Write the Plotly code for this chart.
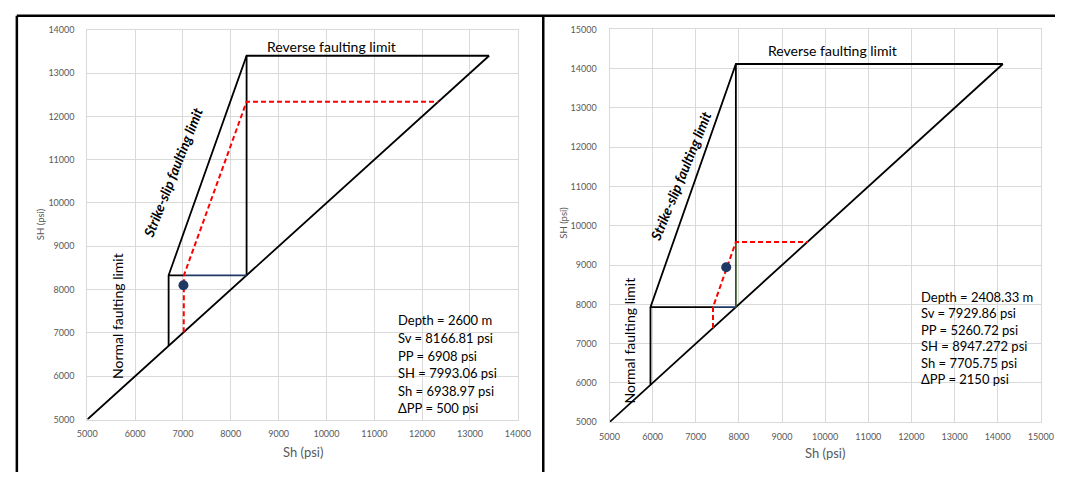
import plotly.graph_objects as go

# ---------------- data ----------------
# Left panel (Depth 2600 m)
L_diag_x = [5000, 13400]
L_diag_y = [5000, 13400]
L_frame_x = [6700, 6700, 8330, 13400]
L_frame_y = [6700, 8330, 13400, 13400]
L_vert_x = [8330, 8330]
L_vert_y = [8330, 13400]
L_hblack_x = [6700, 7020]
L_hblack_y = [8330, 8330]
L_hblue_x = [7020, 8330]
L_hblue_y = [8330, 8330]
L_red_x = [7015, 7020, 8330, 12340]
L_red_y = [7015, 8330, 12340, 12340]
L_dot_x = [7010]
L_dot_y = [8100]
L_info = ["Depth = 2600 m", "Sv = 8166.81 psi", "PP = 6908 psi",
          "SH = 7993.06 psi", "Sh = 6938.97 psi", "\u0394PP = 500 psi"]
L_xticks = list(range(5000, 14001, 1000))
L_yticks = list(range(5000, 14001, 1000))

# Right panel (Depth 2408.33 m)
R_diag_x = [5000, 14120]
R_diag_y = [5000, 14120]
R_frame_x = [5950, 5950, 7930, 14120]
R_frame_y = [5950, 7930, 14120, 14120]
R_vert_x = [7930, 7930]
R_vert_y = [9590, 14120]
R_hblack_x = [5950, 7400]
R_hblack_y = [7930, 7930]
R_hblue_x = [7400, 7930]
R_hblue_y = [7930, 7930]
R_green_x = [7930, 7930]
R_green_y = [7930, 9590]
R_red_x = [7400, 7400, 7930, 9600]
R_red_y = [7400, 7930, 9590, 9590]
R_dot_x = [7706]
R_dot_y = [8947]
R_info = ["Depth = 2408.33 m", "Sv = 7929.86 psi", "PP = 5260.72 psi",
          "SH = 8947.272 psi", "Sh = 7705.75 psi", "\u0394PP = 2150 psi"]
R_xticks = list(range(5000, 15001, 1000))
R_yticks = list(range(5000, 15001, 1000))

# ---------------- figure ----------------
W, H = 1068, 477
BLACK = "#000000"
BLUE = "#203864"
GREEN = "#385723"
RED = "#ff0000"
GRID = "#d9d9d9"
TICK = "#595959"
FONT = "Lato, 'Open Sans', sans-serif"
RED_DASH = "5px,3px"

fig = go.Figure()

def line(x, y, color, width, dash="solid", xa="x", ya="y"):
    fig.add_trace(go.Scatter(x=x, y=y, mode="lines", xaxis=xa, yaxis=ya,
                             line=dict(color=color, width=width, dash=dash),
                             hoverinfo="skip", showlegend=False))

# left panel
line(L_diag_x, L_diag_y, BLACK, 1.8)
line(L_frame_x, L_frame_y, BLACK, 1.8)
line(L_vert_x, L_vert_y, BLACK, 1.8)
line(L_hblack_x, L_hblack_y, BLACK, 1.8)
line(L_hblue_x, L_hblue_y, BLUE, 1.8)
line(L_red_x, L_red_y, RED, 2, RED_DASH)
fig.add_trace(go.Scatter(x=L_dot_x, y=L_dot_y, mode="markers",
                         marker=dict(color=BLUE, size=10), showlegend=False,
                         hoverinfo="skip", xaxis="x", yaxis="y"))

# right panel
line(R_diag_x, R_diag_y, BLACK, 1.8, xa="x2", ya="y2")
line(R_frame_x, R_frame_y, BLACK, 1.8, xa="x2", ya="y2")
line(R_vert_x, R_vert_y, BLACK, 1.8, xa="x2", ya="y2")
line(R_hblack_x, R_hblack_y, BLACK, 1.8, xa="x2", ya="y2")
line(R_hblue_x, R_hblue_y, BLUE, 1.8, xa="x2", ya="y2")
line(R_green_x, R_green_y, GREEN, 1.8, xa="x2", ya="y2")
line(R_red_x, R_red_y, RED, 2, RED_DASH, xa="x2", ya="y2")
fig.add_trace(go.Scatter(x=R_dot_x, y=R_dot_y, mode="markers",
                         marker=dict(color=BLUE, size=10), showlegend=False,
                         hoverinfo="skip", xaxis="x2", yaxis="y2"))

def px_x(p):
    return p / W

def px_y(p):
    return (H - p) / H

axis_common = dict(showgrid=True, gridcolor=GRID, gridwidth=1, zeroline=False,
                   showline=True, linecolor=GRID, linewidth=1, mirror=True,
                   ticks="", tickformat="d",
                   tickfont=dict(family=FONT, size=9, color=TICK),
                   fixedrange=True)

fig.update_layout(
    width=W, height=H, margin=dict(l=0, r=0, t=0, b=0),
    paper_bgcolor="white", plot_bgcolor="white", showlegend=False,
    xaxis=dict(domain=[px_x(79), px_x(519)], range=[5000, 14000], tickvals=L_xticks,
               anchor="y", ticklabelstandoff=6, **axis_common),
    yaxis=dict(domain=[px_y(423.3), px_y(24.3)], range=[5000, 14000], tickvals=L_yticks,
               anchor="x", ticklabelstandoff=10, **axis_common),
    xaxis2=dict(domain=[px_x(612.7), px_x(1053.5)], range=[5000, 15000], tickvals=R_xticks,
                anchor="y2", ticklabelstandoff=6, **axis_common),
    yaxis2=dict(domain=[px_y(426), px_y(24)], range=[5000, 15000], tickvals=R_yticks,
                anchor="x2", ticklabelstandoff=10, **axis_common),
)

ann = []
lbl_font = dict(family=FONT, size=14, color="#000000")
info_font = dict(family=FONT, size=13, color="#000000")
ss_font = dict(family=FONT, size=14, color="#000000")
C = dict(showarrow=False, xanchor="center", yanchor="middle")
# left labels
ann.append(dict(x=10095, y=13617, xref="x", yref="y", text="Reverse faulting limit",
                font=lbl_font, **C))
ann.append(dict(x=6780, y=10715, xref="x", yref="y",
                text="<b><i>Strike-slip faulting limit</i></b>", textangle=-68.5,
                font=ss_font, **C))
ann.append(dict(x=5630, y=7402, xref="x", yref="y", text="Normal faulting limit",
                textangle=-90, font=lbl_font, **C))
for i, t in enumerate(L_info):
    ann.append(dict(x=11460, y=7290, xref="x", yref="y", text=t, xanchor="left",
                    yanchor="middle", yshift=-17.6 * i, showarrow=False, font=info_font))
# right labels
ann.append(dict(x=10175, y=14461, xref="x2", yref="y2", text="Reverse faulting limit",
                font=lbl_font, **C))
ann.append(dict(x=6647, y=11250, xref="x2", yref="y2",
                text="<b><i>Strike-slip faulting limit</i></b>", textangle=-67.7,
                font=ss_font, **C))
ann.append(dict(x=5457, y=7087, xref="x2", yref="y2", text="Normal faulting limit",
                textangle=-90, font=lbl_font, **C))
for i, t in enumerate(R_info):
    ann.append(dict(x=12165, y=8197, xref="x2", yref="y2", text=t, xanchor="left",
                    yanchor="middle", yshift=-16.5 * i, showarrow=False, font=info_font))

# axis titles
title_font = dict(family=FONT, size=13, color=TICK)
ann.append(dict(x=px_x(299), y=px_y(456.5), xref="paper", yref="paper", text="Sh (psi)",
                font=title_font, **C))
ann.append(dict(x=px_x(833), y=px_y(458), xref="paper", yref="paper", text="Sh (psi)",
                font=title_font, **C))
ann.append(dict(x=px_x(32), y=px_y(223), xref="paper", yref="paper", text="SH (psi)",
                textangle=-90, font=dict(family=FONT, size=9.5, color=TICK), **C))
ann.append(dict(x=px_x(566), y=px_y(222), xref="paper", yref="paper", text="SH (psi)",
                textangle=-90, font=dict(family=FONT, size=9.5, color=TICK), **C))
fig.update_layout(annotations=ann)

# outer panel frames
frame = dict(color="#000000", width=2.5)
fig.add_shape(type="line", xref="paper", yref="paper", x0=px_x(7), x1=px_x(7),
              y0=px_y(10), y1=px_y(477), line=frame)
fig.add_shape(type="line", xref="paper", yref="paper", x0=px_x(545), x1=px_x(545),
              y0=px_y(10), y1=px_y(477), line=frame)
fig.add_shape(type="line", xref="paper", yref="paper", x0=px_x(7), x1=1,
              y0=px_y(10), y1=px_y(10), line=frame)

fig.write_html("out.html", config=dict(displayModeBar=False),
               post_script="document.body.style.margin='0px';document.body.style.overflow='hidden';")
